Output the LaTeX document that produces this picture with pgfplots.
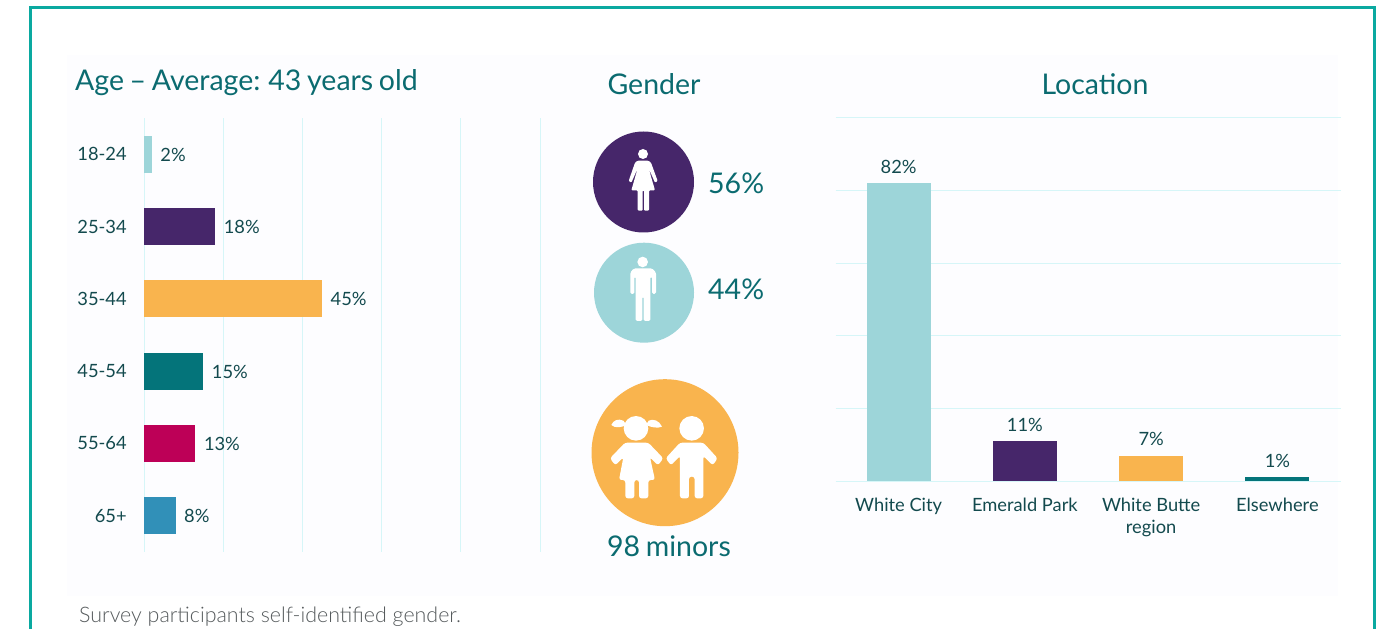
\documentclass[border=0pt]{standalone}
\usepackage{fontspec}
\setmainfont{Lato}
\newfontfamily\latolight{Lato Light}
\usepackage{pgfplots}
\pgfplotsset{compat=1.18}

\definecolor{framecol}{HTML}{0AA9A0}
\definecolor{panelcol}{HTML}{FDFDFF}
\definecolor{gridcol}{HTML}{D6F6F8}
\definecolor{headcol}{HTML}{0B6B70}
\definecolor{labelcol}{HTML}{134A4E}
\definecolor{notecol}{HTML}{555A5C}
\definecolor{cblue}{HTML}{9DD5D9}
\definecolor{cpurple}{HTML}{46266A}
\definecolor{corange}{HTML}{F9B44E}
\definecolor{cteal}{HTML}{04747A}
\definecolor{cred}{HTML}{BD0057}
\definecolor{csteel}{HTML}{3190B8}

\newcommand{\lab}{\fontsize{18.3}{22.5}\selectfont}
\newcommand{\head}{\fontsize{28.5}{34}\selectfont\spaceskip=5.6pt\relax}

\pgfplotsset{
  panel/.style={
    scale only axis,
    axis line style={draw=none},
    tick style={draw=none},
    grid style={gridcol,line width=1pt},
    /pgf/number format/assume math mode=true,
    nodes near coords={\pgfmathprintnumber{\pgfplotspointmeta}\%},
    nodes near coords style={text=labelcol,font=\lab},
    tick label style={text=labelcol,font=\lab},
    clip=false,
  },
}

\begin{document}
\begin{tikzpicture}
% page, frame and panel
\fill[white] (0pt,0pt) rectangle (1388pt,-629pt);
\fill[panelcol] (67pt,-55pt) rectangle (1338pt,-596pt);
\draw[framecol,line width=3pt] (30pt,-629pt) -- (30pt,-8pt) -- (1374pt,-8pt) -- (1374pt,-629pt);

% age
\begin{axis}[
  panel,
  at={(144pt,-552pt)},anchor=south west,
  width=396pt,height=434pt,
  xbar,bar width=37pt,bar shift=0pt,
  xmin=0,xmax=100,xtick={0,20,40,60,80,100},xticklabels={},
  xmajorgrids,
  y dir=reverse,ymin=-0.5,ymax=5.5,
  ytick={0,1,2,3,4,5},
  yticklabels={18-24,25-34,35-44,45-54,55-64,65+},
  yticklabel style={xshift=-9.5pt},
  nodes near coords style={xshift=5pt,yshift=-0.5pt},
  point meta=x,
]
\addplot[fill=cblue,draw=none] coordinates {(2,0)};
\addplot[fill=cpurple,draw=none] coordinates {(18,1)};
\addplot[fill=corange,draw=none] coordinates {(45,2)};
\addplot[fill=cteal,draw=none] coordinates {(15,3)};
\addplot[fill=cred,draw=none] coordinates {(13,4)};
\addplot[fill=csteel,draw=none] coordinates {(8,5)};
\end{axis}

% location
\begin{axis}[
  panel,
  at={(835.5pt,-481pt)},anchor=south west,
  width=505pt,height=363pt,
  ybar,bar width=64pt,bar shift=0pt,
  xmin=-0.5,xmax=3.5,xtick={0,1,2,3},
  xticklabels={White City,Emerald Park,{White Butte\\region},Elsewhere},
  xticklabel style={align=center,yshift=-9pt},
  ymin=0,ymax=100,ytick={0,20,40,60,80,100},yticklabels={},
  ymajorgrids,
  nodes near coords style={yshift=6pt},
  point meta=y,
]
\addplot[fill=cblue,draw=none] coordinates {(0,82)};
\addplot[fill=cpurple,draw=none] coordinates {(1,11)};
\addplot[fill=corange,draw=none] coordinates {(2,7)};
\addplot[fill=cteal,draw=none] coordinates {(3,1)};
\end{axis}

% headings
\node[anchor=base west,text=headcol,font=\head,inner sep=0pt] at (75pt,-91pt) {Age – Average: 43 years old};
\node[anchor=base,text=headcol,font=\head,inner sep=0pt] at (654pt,-94.5pt) {Gender};
\node[anchor=base,text=headcol,font=\head,inner sep=0pt] at (1095pt,-94.5pt) {Location};
\node[anchor=base west,text=headcol,font=\head,inner sep=0pt] at (708pt,-193.5pt) {56\%};
\node[anchor=base west,text=headcol,font=\head,inner sep=0pt] at (708pt,-299.5pt) {44\%};
\node[anchor=base,text=headcol,font=\head,inner sep=0pt] at (669pt,-556.5pt) {98 minors};
\node[anchor=base west,text=notecol,font=\latolight\fontsize{21.4}{25}\selectfont,inner sep=0pt] at (79pt,-622pt) {Survey participants self-identified gender.};

% icons
\fill[cpurple] (643.5pt,-182pt) circle (50.5pt);
\fill[cblue] (644pt,-292.7pt) circle (50pt);
\fill[corange] (665pt,-452.7pt) circle (73.5pt);

% woman (coordinates in 1/3 px from 570,120)
\begin{scope}[shift={(570pt,-120pt)},x=0.3333pt,y=-0.3333pt,white]
\fill (219,102) circle (5pt);
\fill[rounded corners=1pt] (203,122) -- (235,122) -- (243,128) -- (263,183) -- (255,188) -- (236,145) -- (255,211) -- (237,211) -- (237,272) -- (222,272) -- (222,211) -- (218,211) -- (218,272) -- (203,272) -- (203,211) -- (184,211) -- (203,145) -- (184,188) -- (176,183) -- (195,128) -- cycle;
\end{scope}

% man
\begin{scope}[shift={(570pt,-120pt)},x=0.3333pt,y=-0.3333pt,white]
\fill (218,426) circle (5.3pt);
\fill[rounded corners=1.5pt] (192,445) -- (246,445) -- (258,457) -- (258,522) -- (246,522) -- (246,470) -- (241,470) -- (241,603) -- (221,603) -- (221,530) -- (217,530) -- (217,603) -- (197,603) -- (197,470) -- (193,470) -- (193,522) -- (181,522) -- (181,457) -- cycle;
\end{scope}

% girl and boy (coordinates in 1/3 px from 570,370)
\begin{scope}[shift={(570pt,-370pt)},x=0.3333pt,y=-0.3333pt,white]
\fill (198,175) circle (12.3pt);
\fill (160,152) .. controls (145,145) and (130,150) .. (124,165) .. controls (135,176) and (155,172) .. (170,165) -- cycle;
\fill (236,152) .. controls (250,145) and (268,152) .. (276,170) .. controls (262,176) and (245,172) .. (228,165) -- cycle;
\fill[rounded corners=2.5pt] (165,218) -- (235,218) -- (280,265) -- (264,286) -- (240,262) -- (255,330) -- (235,330) -- (235,385) -- (207,385) -- (207,330) -- (193,330) -- (193,385) -- (166,385) -- (166,330) -- (147,330) -- (160,262) -- (136,286) -- (120,265) -- cycle;
\fill (365,175) circle (12.3pt);
\fill[rounded corners=2.5pt] (330,218) -- (400,218) -- (443,265) -- (428,286) -- (400,258) -- (400,385) -- (374,385) -- (374,320) -- (357,320) -- (357,385) -- (330,385) -- (330,258) -- (303,286) -- (287,265) -- cycle;
\end{scope}
\end{tikzpicture}
\end{document}
